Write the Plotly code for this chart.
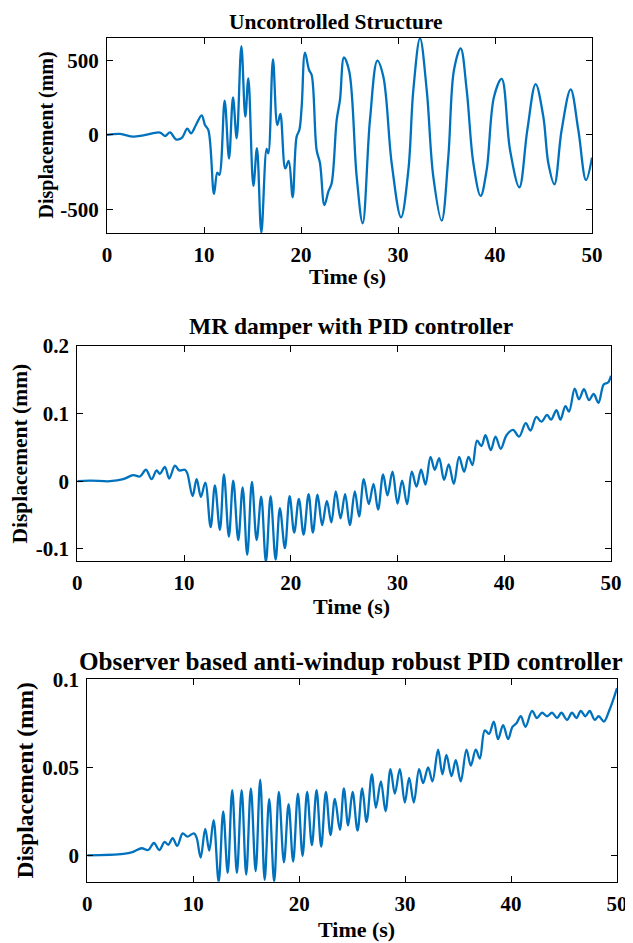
import plotly.graph_objects as go

# ---- Uncontrolled structure (peaks / troughs) ----
t1 = [0, 1.34, 2.7, 3.75, 5.47, 5.98, 6.5, 7.1, 7.7, 8.28, 8.66, 9.17, 9.76, 10.1, 10.45,
      11.03, 11.37, 11.58, 12.13, 12.58, 12.99, 13.37, 13.85, 14.26, 14.57, 15.09, 15.46,
      15.91, 16.46, 16.63, 17.11, 17.56, 17.87, 18.38, 18.73, 19.14, 19.55, 19.83, 20.07,
      20.41, 20.83, 21.1, 21.61, 21.96, 22.41, 22.82, 23.16, 23.68, 24.02, 24.43, 24.98,
      25.74, 26.36, 27.11, 27.87, 28.49, 29.35, 30.31, 31.07, 31.58, 32.27, 32.96, 33.64,
      34.5, 35.19, 35.77, 36.46, 37.08, 37.77, 38.52, 39.14, 39.9, 40.69, 41.55, 42.51,
      43.33, 44.19, 44.98, 45.5, 46.12, 46.87, 47.8, 48.59, 49.38, 50.0]
d1 = [0, 7, -11, -2, 16, -7, 18, -29, -20, 42, 11, 67, 132, 67, 33,
      -396, -253, -268, 230, -158, 253, -22, 597, 123, 380, -342, -89,
      -655, -94, -123, 508, 67, 141, -224, -174, -418, -11, 33, 190,
      552, 436, 403, -101, -190, -470, -380, -324, 101, 235, 521, 425,
      -280, -593, 101, 499, 391, -190, -553, -235, 302, 649, 302, -280,
      -575, -145, 436, 582, 302, -190, -409, -235, 257, 376, -101, -351,
      33, 342, 123, -190, -331, 33, 306, 33, -302, -152]

# ---- MR damper with PID controller ----
t2 = [0, 1.19, 3.06, 4.31, 5.24, 5.87, 6.43, 6.96, 7.43, 7.74, 8.21, 8.61, 9.15, 9.55,
      10.08, 10.3, 10.8, 11.18, 11.58, 11.99, 12.49, 12.89, 13.36, 13.74, 14.2, 14.61,
      15.08, 15.49, 15.92, 16.36, 16.8, 17.23, 17.67, 18.11, 18.58, 18.98, 19.45, 19.89,
      20.32, 20.76, 21.2, 21.67, 22.07, 22.51, 22.94, 23.38, 23.8, 24.22, 24.66, 25.09,
      25.53, 26.0, 26.4, 26.84, 27.31, 27.75, 28.18, 28.65, 29.06, 29.53, 30.0, 30.43,
      30.9, 31.34, 31.78, 32.21, 32.62, 33.09, 33.49, 33.9, 34.36, 34.8, 35.27, 35.77,
      36.24, 36.65, 37.02, 37.45, 37.86, 38.24, 38.74, 39.18, 39.67, 40.21, 40.82, 41.39,
      42.01, 42.45, 43.01, 43.48, 44.01, 44.38, 44.89, 45.26, 45.73, 46.07, 46.6, 47.0,
      47.47, 47.94, 48.38, 48.82, 49.32, 49.72, 50.0]
d2 = [0, 0.001, 0, 0.003, 0.009, 0.007, 0.017, 0.003, 0.016, 0.011, 0.021, 0.004, 0.023, 0.016,
      0.017, 0.012, -0.022, 0.003, -0.023, -0.002, -0.068, -0.006, -0.072, 0.010, -0.082, 0.001,
      -0.087, -0.009, -0.109, -0.001, -0.087, -0.023, -0.119, -0.022, -0.116, -0.040, -0.099, -0.022,
      -0.076, -0.026, -0.079, -0.019, -0.076, -0.020, -0.065, -0.029, -0.061, -0.015, -0.055, -0.019,
      -0.065, -0.015, -0.052, 0.003, -0.034, -0.004, -0.042, 0.010, -0.021, 0.014, -0.033, 0.001,
      -0.034, 0.014, -0.008, 0.017, -0.005, 0.036, 0.017, 0.034, 0.002, 0.025, -0.004, 0.036,
      0.014, 0.036, 0.024, 0.060, 0.052, 0.068, 0.046, 0.066, 0.048, 0.068, 0.076, 0.066,
      0.086, 0.075, 0.095, 0.088, 0.098, 0.091, 0.105, 0.091, 0.111, 0.103, 0.137, 0.121,
      0.136, 0.120, 0.129, 0.116, 0.143, 0.146, 0.156]

# ---- Observer based anti-windup robust PID controller ----
t3 = [0, 3.4, 4.34, 5.13, 5.75, 6.29, 6.79, 7.3, 7.64, 8.06, 8.49, 9.0, 9.43, 10.07, 10.32,
      10.7, 11.13, 11.51, 11.92, 12.4, 12.83, 13.25, 13.68, 14.12, 14.57, 15.0, 15.44, 15.89,
      16.32, 16.74, 17.17, 17.64, 18.08, 18.56, 19.0, 19.43, 19.88, 20.32, 20.75, 21.2, 21.64,
      22.08, 22.52, 22.96, 23.37, 23.84, 24.22, 24.62, 25.04, 25.51, 25.95, 26.36, 26.86, 27.24,
      27.71, 28.15, 28.62, 29.03, 29.5, 29.97, 30.38, 30.82, 31.32, 31.7, 32.17, 32.58, 33.11,
      33.52, 33.9, 34.38, 34.78, 35.25, 35.79, 36.2, 36.67, 37.05, 37.52, 37.92, 38.37, 38.77,
      39.25, 39.72, 40.13, 40.51, 40.92, 41.36, 41.98, 42.45, 42.92, 43.4, 43.87, 44.34, 44.75,
      45.28, 45.75, 46.17, 46.58, 47.02, 47.42, 47.9, 48.27, 48.77, 49.25, 49.62, 50.0]
d3 = [0, 0.0008, 0.002, 0.004, 0.003, 0.007, 0.003, 0.0076, 0.006, 0.0097, 0.0053, 0.0125, 0.0106,
      0.0125, 0.010, -0.0013, 0.015, 0.0027, 0.020, -0.015, 0.025, -0.010, 0.037, -0.010, 0.037,
      -0.011, 0.038, -0.009, 0.043, -0.014, 0.032, -0.015, 0.036, -0.004, 0.029, -0.0036, 0.035,
      -0.0004, 0.036, 0.0058, 0.037, 0.0049, 0.036, 0.0115, 0.032, 0.0145, 0.038, 0.017, 0.036,
      0.014, 0.038, 0.019, 0.046, 0.027, 0.042, 0.025, 0.049, 0.035, 0.049, 0.030, 0.044, 0.030,
      0.049, 0.041, 0.050, 0.042, 0.060, 0.046, 0.057, 0.045, 0.054, 0.042, 0.060, 0.051, 0.060,
      0.055, 0.071, 0.069, 0.076, 0.066, 0.074, 0.066, 0.073, 0.075, 0.079, 0.073, 0.082, 0.078,
      0.081, 0.079, 0.081, 0.078, 0.081, 0.077, 0.081, 0.078, 0.082, 0.079, 0.082, 0.077, 0.079,
      0.076, 0.082, 0.088, 0.095]

titles = ["Uncontrolled Structure", "MR damper with PID controller",
          "Observer based anti-windup robust PID controller"]
x_ticks = [0, 10, 20, 30, 40, 50]
y_ticks = [[-500, 0, 500], [-0.1, 0, 0.1, 0.2], [0, 0.05, 0.1]]
y_ticktext = [["-500", "0", "500"], ["-0.1", "0", "0.1", "0.2"], ["0", "0.05", "0.1"]]
y_ranges = [[-658, 651], [-0.118, 0.2], [-0.015, 0.1]]

W, H = 633, 943
OFF = 8  # page body margin in the browser
# pixel boxes (window coordinates): left, right, top, bottom
boxes = [(107, 592, 38, 233), (77.3, 611, 346, 561), (87.3, 617, 679.3, 881.7)]
ylabel_x = [46, 19, 24]
ylabel_size = [20, 21.5, 23.5]
title_cx = [336, 351, 351]
title_cy = [22, 326, 661]
title_size = [21.5, 23.5, 25.2]
xlabel_cx = [347, 351, 356]
xlabel_gap = [43, 45, 48]


def px(x):
    return (x - OFF) / W


def py(y):
    return 1 - (y - OFF) / H


LINE = "#0072BD"
FONT = "Liberation Serif"

fig = go.Figure()
series = [(t1, d1), (t2, d2), (t3, d3)]
annotations = []
for i, ((t, d), (l, r, top, bot)) in enumerate(zip(series, boxes)):
    sfx = "" if i == 0 else str(i + 1)
    fig.add_trace(go.Scatter(x=t, y=d, mode="lines", xaxis="x" + sfx, yaxis="y" + sfx,
                             line=dict(color=LINE, width=2.3, shape="spline", smoothing=1.0),
                             showlegend=False, hoverinfo="skip"))
    axcommon = dict(showline=True, mirror="ticks", linecolor="black", linewidth=1.3,
                    ticks="inside", ticklen=6, tickwidth=1, tickcolor="black",
                    showgrid=False, zeroline=False, automargin=False,
                    tickfont=dict(family=FONT, size=21, color="black", weight="bold"))
    fig.update_layout(**{
        "xaxis" + sfx: dict(domain=[px(l), px(r)], range=[0, 50], tickvals=x_ticks,
                            anchor="y" + sfx, ticklabelstandoff=3, **axcommon),
        "yaxis" + sfx: dict(domain=[py(bot), py(top)], range=y_ranges[i],
                            tickvals=y_ticks[i], ticktext=y_ticktext[i],
                            anchor="x" + sfx, ticklabelstandoff=3, **axcommon),
    })
    annotations.append(dict(text="<b>" + titles[i] + "</b>", x=px(title_cx[i]),
                            y=py(title_cy[i]),
                            xref="paper", yref="paper", xanchor="center", yanchor="middle",
                            showarrow=False,
                            font=dict(family=FONT, size=title_size[i], color="black")))
    annotations.append(dict(text="<b>Time (s)</b>", x=px(xlabel_cx[i]),
                            y=py(bot + xlabel_gap[i]),
                            xref="paper", yref="paper", xanchor="center", yanchor="middle",
                            showarrow=False, font=dict(family=FONT, size=22, color="black")))
    annotations.append(dict(text="<b>Displacement (mm)</b>", x=px(ylabel_x[i]),
                            y=py((top + bot) / 2), textangle=-90,
                            xref="paper", yref="paper", xanchor="center", yanchor="middle",
                            showarrow=False,
                            font=dict(family=FONT, size=ylabel_size[i], color="black")))

fig.update_layout(width=W, height=H, margin=dict(l=0, r=0, t=0, b=0, autoexpand=False),
                  paper_bgcolor="white", plot_bgcolor="white",
                  annotations=annotations)
fig.write_html("out.html")
